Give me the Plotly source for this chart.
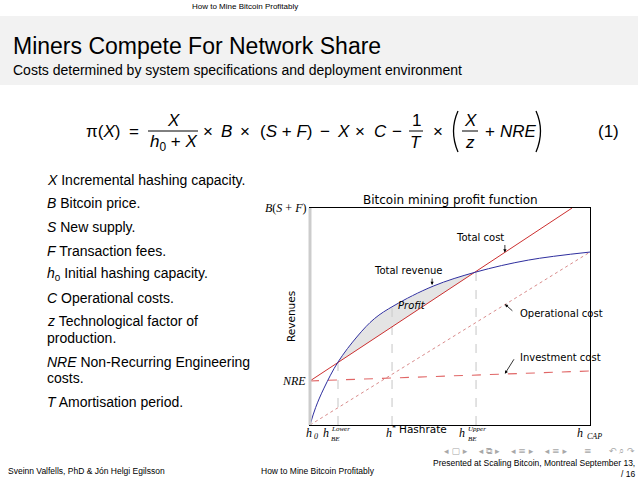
import numpy as np
import plotly.graph_objects as go

W, H = 638, 479

# ---------------- data (value units: hashrate 0..1 = h0..h_CAP, revenue 0..1 = 0..B(S+F)) -------------
hashrate_rev = [0.0, 0.02, 0.05, 0.10, 0.17, 0.23, 0.30, 0.44, 0.593, 0.78, 1.0]
total_revenue = [0.0, 0.08, 0.17, 0.29, 0.41, 0.49, 0.55, 0.64, 0.705, 0.76, 0.797]
cost_x = [0.0, 0.936]
total_cost = [0.203, 1.0]
op_x = [0.0, 1.0]
operational_cost = [0.0, 0.797]
inv_x = [0.0, 1.0]
investment_cost = [0.203, 0.249]
break_even_lower = 0.10
h_star = 0.293
break_even_upper = 0.593
marker_tops = [0.29, 0.54, 0.705]
nre_level = 0.203
bsf_level = 1.0

list_items = [
    ("<i>X</i> Incremental hashing capacity.", 180),
    ("<i>B</i> Bitcoin price.", 203),
    ("<i>S</i> New supply.", 227),
    ("<i>F</i> Transaction fees.", 251),
    ("<i>h</i><sub>0</sub> Initial hashing capacity.", 274),
    ("<i>C</i> Operational costs.", 298),
    ("<i>z</i> Technological factor of", 321),
    ("production.", 338),
    ("<i>NRE</i> Non-Recurring Engineering", 362),
    ("costs.", 378),
    ("<i>T</i> Amortisation period.", 402),
]

SANS = "Liberation Sans"
CHART = "DejaVu Sans"
SERIF = "Liberation Serif"


def px(x):
    return x / W


def py(y):
    return 1 - y / H


fig = go.Figure()

# shaded profit region
sel = [(x, r) for x, r in zip(hashrate_rev, total_revenue) if break_even_lower <= x <= break_even_upper]
sx = [s[0] for s in sel]
sy = [s[1] for s in sel]
cx = [break_even_upper, break_even_lower]
cy = list(np.interp(cx, cost_x, total_cost))
fig.add_trace(go.Scatter(x=sx + cx, y=sy + cy, fill="toself", fillcolor="#e4e4e4",
                         line=dict(width=0), mode="lines", hoverinfo="skip"))

# vertical dashed markers
for xv, top in zip([break_even_lower, h_star, break_even_upper], marker_tops):
    fig.add_trace(go.Scatter(x=[xv, xv], y=[0, top], mode="lines",
                             line=dict(color="#cfcfcf", width=1.2, dash="dash")))

fig.add_trace(go.Scatter(x=op_x, y=operational_cost, mode="lines",
                         line=dict(color="#d98c8c", width=1, dash="dot")))
fig.add_trace(go.Scatter(x=inv_x, y=investment_cost, mode="lines",
                         line=dict(color="#e06666", width=1.1, dash="dash")))
fig.add_trace(go.Scatter(x=cost_x, y=total_cost, mode="lines",
                         line=dict(color="#cc2f2f", width=1)))
fig.add_trace(go.Scatter(x=hashrate_rev, y=total_revenue, mode="lines", line_shape="spline",
                         line=dict(color="#2e2e9e", width=1)))

shapes = []
ann = []

# slide header band
shapes.append(dict(type="rect", xref="paper", yref="paper", x0=0, x1=1, y0=py(85), y1=py(16),
                   fillcolor="#f2f2f2", line=dict(width=0), layer="below"))
# chart left gray axis
shapes.append(dict(type="line", xref="x domain", yref="y domain", x0=0, x1=0, y0=0, y1=1,
                   line=dict(color="#cccccc", width=3), layer="above"))


def t(text, x, y, size, font=SANS, anchor="center", color="#000000", **kw):
    ann.append(dict(text=text, x=px(x), y=py(y), xref="paper", yref="paper", showarrow=False,
                    xanchor=anchor, yanchor="middle", font=dict(family=font, size=size, color=color), **kw))


t("How to Mine Bitcoin Profitably", 245, 7, 8)
t("Miners Compete For Network Share", 11, 46, 23, anchor="left")
t("Costs determined by system specifications and deployment environment", 11, 70, 14, anchor="left")

# equation
EQ = 17
ey = 131
t("π(<i>X</i>)", 103, ey, EQ)
t("=", 134, ey, EQ)
t("<i>X</i>", 173, 120, EQ)
t("<i>h</i><sub>0</sub> + <i>X</i>", 173, 143, EQ)
shapes.append(dict(type="line", xref="paper", yref="paper", x0=px(148), x1=px(198), y0=py(131), y1=py(131),
                   line=dict(color="black", width=1)))
for s, xx in [("×", 208), ("<i>B</i>", 226), ("×", 245), ("(<i>S</i> + <i>F</i>)", 286),
              ("−", 325), ("<i>X</i>", 343), ("×", 360), ("<i>C</i>", 380), ("−", 397),
              ("×", 438), ("+", 490), ("<i>NRE</i>", 518)]:
    t(s, xx, ey, EQ)
t("1", 416, 120, EQ)
t("<i>T</i>", 416, 142, EQ)
shapes.append(dict(type="line", xref="paper", yref="paper", x0=px(409), x1=px(423), y0=py(131), y1=py(131),
                   line=dict(color="black", width=1)))
t("<i>X</i>", 470, 120, EQ)
t("<i>z</i>", 470, 142, EQ)
shapes.append(dict(type="line", xref="paper", yref="paper", x0=px(462), x1=px(478), y0=py(131), y1=py(131),
                   line=dict(color="black", width=1)))
# big parentheses
for x0, xc in [(458, 449), (536, 545)]:
    shapes.append(dict(type="path", xref="paper", yref="paper",
                       path=f"M {px(x0)},{py(111)} Q {px(xc)},{py(131)} {px(x0)},{py(152)}",
                       line=dict(color="black", width=1.3)))
t("(1)", 608, ey, EQ)

# list
for text, yy in list_items:
    t(text, 45, yy, 14, anchor="left")

# footer
t("Sveinn Valfells, PhD &amp; Jón Helgi Egilsson", 6, 471, 8.5, anchor="left")
t("How to Mine Bitcoin Profitably", 318, 471, 8.5)
t("Presented at Scaling Bitcoin, Montreal September 13,", 637, 463, 8.5, anchor="right")
t("/ 16", 637, 474, 8.5, anchor="right")
t("◂ ▢ ▸    ◂ ⧉ ▸    ◂ ≡ ▸    ◂ ≡ ▸      ≡      ↶ ⌕ ↷", 637, 451, 9, font="DejaVu Sans",
  anchor="right", color="#a8a8a8")

# chart texts (data coords)


def c(text, x, y, size, font=CHART, anchor="center", **kw):
    ann.append(dict(text=text, x=x, y=y, xref="x", yref="y", showarrow=False, xanchor=anchor,
                    yanchor="middle", font=dict(family=font, size=size, color="black"), **kw))


def arrow(x, y, ax, ay):
    ann.append(dict(text="", x=x, y=y, xref="x", yref="y", ax=ax, ay=ay, axref="pixel", ayref="pixel",
                    showarrow=True, arrowhead=2, arrowsize=0.8, arrowwidth=0.8, arrowcolor="black"))


t("Bitcoin mining profit function", 450, 200, 12, font=CHART)
c("Total cost", 0.607, 0.866, 10)
arrow(0.696, 0.795, 0, -9)
c("Total revenue", 0.35, 0.71, 10)
arrow(0.436, 0.645, 0, -8)
c("<i>Profit</i>", 0.364, 0.553, 10)
c("Operational cost", 0.743, 0.516, 10, anchor="left")
arrow(0.696, 0.557, 9, 8)
c("Investment cost", 0.743, 0.309, 10, anchor="left")
arrow(0.696, 0.236, 10, -16)

# y labels (left of the axis)
for text, level in [("<i>B</i>(<i>S</i> + <i>F</i>)", bsf_level), ("<i>NRE</i>", nre_level)]:
    ann.append(dict(text=text, x=px(308), y=level, xref="paper", yref="y", showarrow=False,
                    xanchor="right", yanchor="middle", font=dict(family=SERIF, size=12, color="black")))
t("Revenues", 291, 317, 10.5, font=CHART, textangle=-90)

# x tick labels
ty = 433


def xt(text, xv, xshift, yy, size, anchor="center"):
    ann.append(dict(text=text, x=xv, y=py(yy), xref="x", yref="paper", showarrow=False, xanchor=anchor,
                    yanchor="middle", xshift=xshift, font=dict(family=SERIF, size=size, color="black")))


xt("<i>h</i>", 0.0, -1, ty, 12)
xt("<i>0</i>", 0.0, 6, ty + 3, 8)
xt("<i>h</i>", break_even_lower, -12, ty, 12)
xt("<i>Lower</i>", break_even_lower, -9, 429, 7, anchor="left")
xt("<i>BE</i>", break_even_lower, -9, 439, 7, anchor="left")
xt("<i>h</i>", h_star, -3, ty, 12)
xt("*", h_star, 2, 428, 8)
xt("<i>h</i>", break_even_upper, -14, ty, 12)
xt("<i>Upper</i>", break_even_upper, -10, 429, 7, anchor="left")
xt("<i>BE</i>", break_even_upper, -10, 439, 7, anchor="left")
xt("<i>h</i>", 1.0, -10, ty, 12)
xt("<i>CAP</i>", 1.0, -5, ty + 3, 8, anchor="left")
ann.append(dict(text="Hashrate", x=px(423), y=py(437), xref="paper", yref="paper", showarrow=False,
                font=dict(family=CHART, size=10.5, color="black")))

fig.update_layout(
    width=W, height=H, margin=dict(l=0, r=0, t=0, b=0),
    paper_bgcolor="white", plot_bgcolor="white", showlegend=False,
    xaxis=dict(domain=[310 / W, 590 / W], range=[0, 1], showgrid=False, zeroline=False,
               showticklabels=False, ticks="", showline=True, mirror=True, linecolor="black", linewidth=1),
    yaxis=dict(domain=[1 - 425 / H, 1 - 208 / H], range=[0, 1], showgrid=False, zeroline=False,
               showticklabels=False, ticks="", showline=True, mirror=True, linecolor="black", linewidth=1),
    shapes=shapes, annotations=ann,
)

fig.write_html("out.html", config={"displayModeBar": False},
               post_script="document.body.style.margin='0';document.body.style.overflow='hidden';")
